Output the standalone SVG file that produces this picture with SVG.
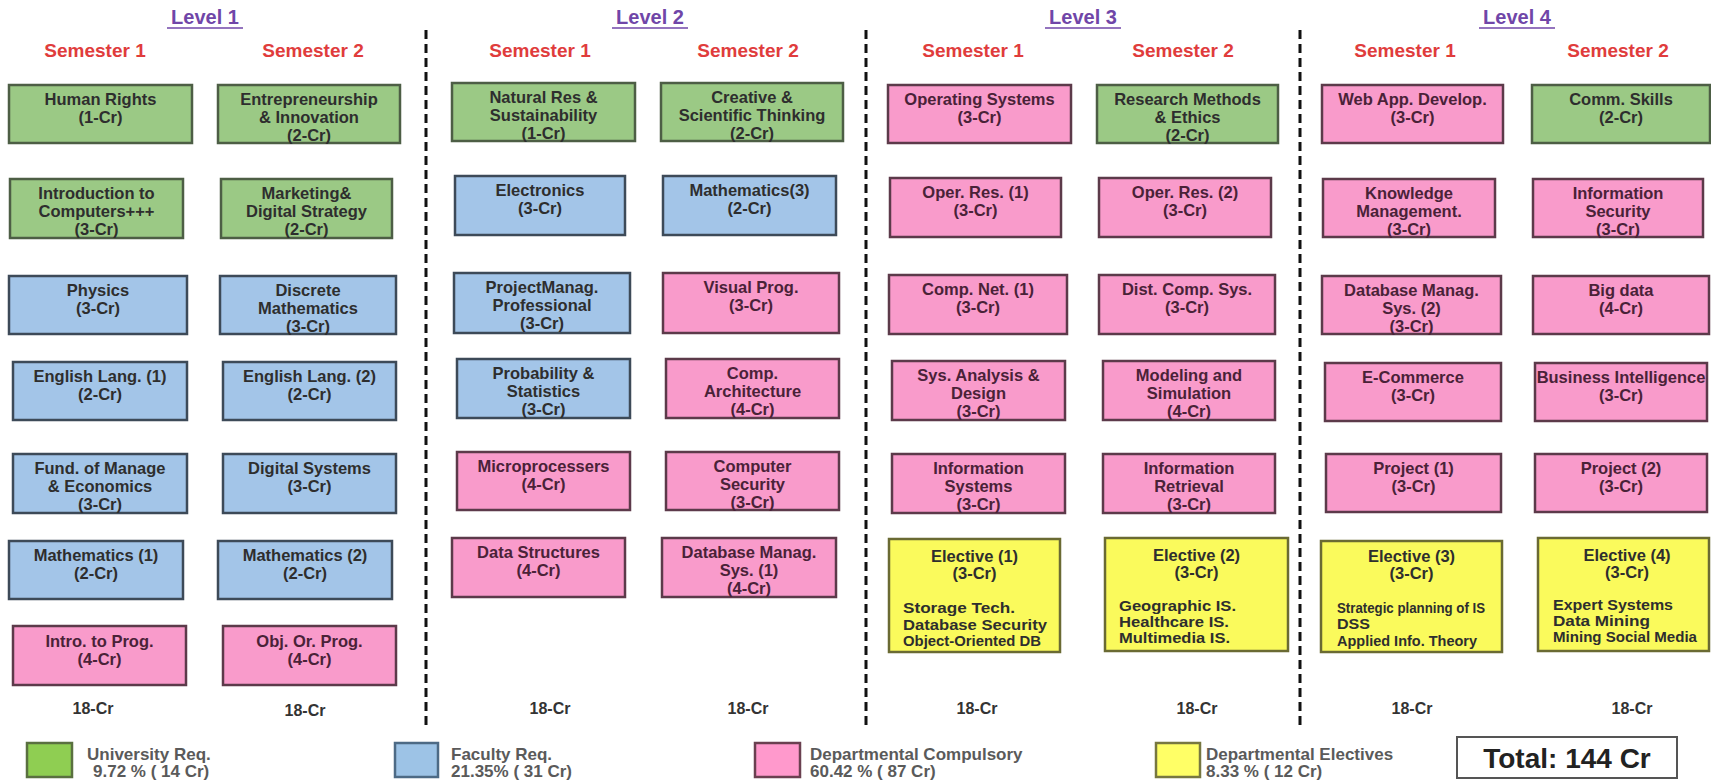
<svg xmlns="http://www.w3.org/2000/svg" width="1711" height="781" viewBox="0 0 1711 781">
<style>
.box{stroke-width:2.5}
.g{fill:#9bc985;stroke:#4d5e45}
.b{fill:#a3c5e8;stroke:#3d4a58}
.p{fill:#f99bcb;stroke:#5c3a4a}
.y{fill:#fafa5c;stroke:#6a6a33}
text{font-family:"Liberation Sans",Arial,sans-serif;font-weight:bold}
.t{font-size:16.5px;fill:#2e2e2e;text-anchor:middle}
.tp{font-size:16.5px;fill:#4a2238;text-anchor:middle}
.l{font-size:15px;fill:#2e2e2e}
.lvl{font-size:20px;fill:#7046a8;text-anchor:middle}
.sem{font-size:19px;fill:#e03c3c;text-anchor:middle}
.cr{font-size:16px;fill:#333;text-anchor:middle}
.lg{font-size:17px;fill:#5a5a5a}
.sep{stroke:#111;stroke-width:3;stroke-dasharray:9 5;fill:none}
</style>
<rect width="1711" height="781" fill="#ffffff"/>
<g id="headers">
<text class="lvl" x="205" y="24">Level 1</text><line x1="167" y1="28" x2="243" y2="28" stroke="#7046a8" stroke-width="1.5"/>
<text class="lvl" x="650" y="24">Level 2</text><line x1="612" y1="28" x2="688" y2="28" stroke="#7046a8" stroke-width="1.5"/>
<text class="lvl" x="1083" y="24">Level 3</text><line x1="1045" y1="28" x2="1121" y2="28" stroke="#7046a8" stroke-width="1.5"/>
<text class="lvl" x="1517" y="24">Level 4</text><line x1="1479" y1="28" x2="1555" y2="28" stroke="#7046a8" stroke-width="1.5"/>
<text class="sem" x="95" y="57">Semester 1</text>
<text class="sem" x="313" y="57">Semester 2</text>
<text class="sem" x="540" y="57">Semester 1</text>
<text class="sem" x="748" y="57">Semester 2</text>
<text class="sem" x="973" y="57">Semester 1</text>
<text class="sem" x="1183" y="57">Semester 2</text>
<text class="sem" x="1405" y="57">Semester 1</text>
<text class="sem" x="1618" y="57">Semester 2</text>
</g>
<g id="connectors">
<line class="sep" x1="426" y1="30" x2="426" y2="728"/>
<line class="sep" x1="866" y1="30" x2="866" y2="728"/>
<line class="sep" x1="1300" y1="30" x2="1300" y2="728"/>
</g>
<!-- Level 1 Semester 1 -->
<g id="n-human-rights"><rect class="box g" x="9" y="85" width="183" height="58"/><text class="t" x="100.5" y="105">Human Rights</text><text class="t" x="100.5" y="123">(1-Cr)</text></g>
<g id="n-intro-computers"><rect class="box g" x="10" y="179" width="173" height="59"/><text class="t" x="96.5" y="199">Introduction to</text><text class="t" x="96.5" y="217">Computers+++</text><text class="t" x="96.5" y="235">(3-Cr)</text></g>
<g id="n-physics"><rect class="box b" x="9" y="276" width="178" height="58"/><text class="t" x="98" y="296">Physics</text><text class="t" x="98" y="314">(3-Cr)</text></g>
<g id="n-english1"><rect class="box b" x="13" y="362" width="174" height="58"/><text class="t" x="100" y="382">English Lang. (1)</text><text class="t" x="100" y="400">(2-Cr)</text></g>
<g id="n-fund-manage"><rect class="box b" x="13" y="454" width="174" height="59"/><text class="t" x="100" y="474">Fund. of Manage</text><text class="t" x="100" y="492">&amp; Economics</text><text class="t" x="100" y="510">(3-Cr)</text></g>
<g id="n-math1"><rect class="box b" x="9" y="541" width="174" height="58"/><text class="t" x="96" y="561">Mathematics (1)</text><text class="t" x="96" y="579">(2-Cr)</text></g>
<g id="n-intro-prog"><rect class="box p" x="13" y="626" width="173" height="59"/><text class="tp" x="99.5" y="647">Intro. to Prog.</text><text class="tp" x="99.5" y="665">(4-Cr)</text></g>
<!-- Level 1 Semester 2 -->
<g id="n-entrepreneurship"><rect class="box g" x="218" y="85" width="182" height="58"/><text class="t" x="309" y="105">Entrepreneurship</text><text class="t" x="309" y="123">&amp; Innovation</text><text class="t" x="309" y="141">(2-Cr)</text></g>
<g id="n-marketing"><rect class="box g" x="221" y="179" width="171" height="59"/><text class="t" x="306.5" y="199">Marketing&amp;</text><text class="t" x="306.5" y="217">Digital Strategy</text><text class="t" x="306.5" y="235">(2-Cr)</text></g>
<g id="n-discrete"><rect class="box b" x="220" y="276" width="176" height="58"/><text class="t" x="308" y="296">Discrete</text><text class="t" x="308" y="314">Mathematics</text><text class="t" x="308" y="332">(3-Cr)</text></g>
<g id="n-english2"><rect class="box b" x="223" y="362" width="173" height="58"/><text class="t" x="309.5" y="382">English Lang. (2)</text><text class="t" x="309.5" y="400">(2-Cr)</text></g>
<g id="n-digital-systems"><rect class="box b" x="223" y="454" width="173" height="59"/><text class="t" x="309.5" y="474">Digital Systems</text><text class="t" x="309.5" y="492">(3-Cr)</text></g>
<g id="n-math2"><rect class="box b" x="218" y="541" width="174" height="58"/><text class="t" x="305" y="561">Mathematics (2)</text><text class="t" x="305" y="579">(2-Cr)</text></g>
<g id="n-obj-prog"><rect class="box p" x="223" y="626" width="173" height="59"/><text class="tp" x="309.5" y="647">Obj. Or. Prog.</text><text class="tp" x="309.5" y="665">(4-Cr)</text></g>
<!-- Level 2 Semester 1 -->
<g id="n-natural-res"><rect class="box g" x="452" y="83" width="183" height="58"/><text class="t" x="543.5" y="103">Natural Res &amp;</text><text class="t" x="543.5" y="121">Sustainability</text><text class="t" x="543.5" y="139">(1-Cr)</text></g>
<g id="n-electronics"><rect class="box b" x="455" y="176" width="170" height="59"/><text class="t" x="540" y="196">Electronics</text><text class="t" x="540" y="214">(3-Cr)</text></g>
<g id="n-project-manag"><rect class="box b" x="454" y="273" width="176" height="60"/><text class="t" x="542" y="293">ProjectManag.</text><text class="t" x="542" y="311">Professional</text><text class="t" x="542" y="329">(3-Cr)</text></g>
<g id="n-probability"><rect class="box b" x="457" y="359" width="173" height="59"/><text class="t" x="543.5" y="379">Probability &amp;</text><text class="t" x="543.5" y="397">Statistics</text><text class="t" x="543.5" y="415">(3-Cr)</text></g>
<g id="n-microprocessors"><rect class="box p" x="457" y="452" width="173" height="58"/><text class="tp" x="543.5" y="472">Microprocessers</text><text class="tp" x="543.5" y="490">(4-Cr)</text></g>
<g id="n-data-structures"><rect class="box p" x="452" y="538" width="173" height="59"/><text class="tp" x="538.5" y="558">Data Structures</text><text class="tp" x="538.5" y="576">(4-Cr)</text></g>
<!-- Level 2 Semester 2 -->
<g id="n-creative"><rect class="box g" x="661" y="83" width="182" height="58"/><text class="t" x="752" y="103">Creative &amp;</text><text class="t" x="752" y="121">Scientific Thinking</text><text class="t" x="752" y="139">(2-Cr)</text></g>
<g id="n-math3"><rect class="box b" x="663" y="176" width="173" height="59"/><text class="t" x="749.5" y="196">Mathematics(3)</text><text class="t" x="749.5" y="214">(2-Cr)</text></g>
<g id="n-visual-prog"><rect class="box p" x="663" y="273" width="176" height="60"/><text class="tp" x="751" y="293">Visual Prog.</text><text class="tp" x="751" y="311">(3-Cr)</text></g>
<g id="n-comp-arch"><rect class="box p" x="666" y="359" width="173" height="59"/><text class="tp" x="752.5" y="379">Comp.</text><text class="tp" x="752.5" y="397">Architecture</text><text class="tp" x="752.5" y="415">(4-Cr)</text></g>
<g id="n-computer-security"><rect class="box p" x="666" y="452" width="173" height="58"/><text class="tp" x="752.5" y="472">Computer</text><text class="tp" x="752.5" y="490">Security</text><text class="tp" x="752.5" y="508">(3-Cr)</text></g>
<g id="n-dbms1"><rect class="box p" x="662" y="538" width="174" height="59"/><text class="tp" x="749" y="558">Database Manag.</text><text class="tp" x="749" y="576">Sys. (1)</text><text class="tp" x="749" y="594">(4-Cr)</text></g>
<!-- Level 3 Semester 1 -->
<g id="n-operating-systems"><rect class="box p" x="888" y="85" width="183" height="58"/><text class="tp" x="979.5" y="105">Operating Systems</text><text class="tp" x="979.5" y="123">(3-Cr)</text></g>
<g id="n-oper-res1"><rect class="box p" x="890" y="178" width="171" height="59"/><text class="tp" x="975.5" y="198">Oper. Res. (1)</text><text class="tp" x="975.5" y="216">(3-Cr)</text></g>
<g id="n-comp-net"><rect class="box p" x="889" y="275" width="178" height="59"/><text class="tp" x="978" y="295">Comp. Net. (1)</text><text class="tp" x="978" y="313">(3-Cr)</text></g>
<g id="n-sys-analysis"><rect class="box p" x="892" y="361" width="173" height="59"/><text class="tp" x="978.5" y="381">Sys. Analysis &amp;</text><text class="tp" x="978.5" y="399">Design</text><text class="tp" x="978.5" y="417">(3-Cr)</text></g>
<g id="n-info-systems"><rect class="box p" x="892" y="454" width="173" height="59"/><text class="tp" x="978.5" y="474">Information</text><text class="tp" x="978.5" y="492">Systems</text><text class="tp" x="978.5" y="510">(3-Cr)</text></g>
<g id="n-elective1"><rect class="box y" x="889" y="539" width="171" height="113"/><text class="t" x="974.5" y="562">Elective (1)</text><text class="t" x="974.5" y="579">(3-Cr)</text><text class="l" x="903" y="613" textLength="112" lengthAdjust="spacingAndGlyphs">Storage Tech.</text><text class="l" x="903" y="630" textLength="144" lengthAdjust="spacingAndGlyphs">Database Security</text><text class="l" x="903" y="646" textLength="138" lengthAdjust="spacingAndGlyphs">Object-Oriented DB</text></g>
<!-- Level 3 Semester 2 -->
<g id="n-research-methods"><rect class="box g" x="1097" y="85" width="181" height="58"/><text class="t" x="1187.5" y="105">Research Methods</text><text class="t" x="1187.5" y="123">&amp; Ethics</text><text class="t" x="1187.5" y="141">(2-Cr)</text></g>
<g id="n-oper-res2"><rect class="box p" x="1099" y="178" width="172" height="59"/><text class="tp" x="1185" y="198">Oper. Res. (2)</text><text class="tp" x="1185" y="216">(3-Cr)</text></g>
<g id="n-dist-comp"><rect class="box p" x="1099" y="275" width="176" height="59"/><text class="tp" x="1187" y="295">Dist. Comp. Sys.</text><text class="tp" x="1187" y="313">(3-Cr)</text></g>
<g id="n-modeling"><rect class="box p" x="1103" y="361" width="172" height="59"/><text class="tp" x="1189" y="381">Modeling and</text><text class="tp" x="1189" y="399">Simulation</text><text class="tp" x="1189" y="417">(4-Cr)</text></g>
<g id="n-info-retrieval"><rect class="box p" x="1103" y="454" width="172" height="59"/><text class="tp" x="1189" y="474">Information</text><text class="tp" x="1189" y="492">Retrieval</text><text class="tp" x="1189" y="510">(3-Cr)</text></g>
<g id="n-elective2"><rect class="box y" x="1105" y="538" width="183" height="113"/><text class="t" x="1196.5" y="561">Elective (2)</text><text class="t" x="1196.5" y="578">(3-Cr)</text><text class="l" x="1119" y="611" textLength="117" lengthAdjust="spacingAndGlyphs">Geographic IS.</text><text class="l" x="1119" y="627" textLength="110" lengthAdjust="spacingAndGlyphs">Healthcare IS.</text><text class="l" x="1119" y="643" textLength="111" lengthAdjust="spacingAndGlyphs">Multimedia IS.</text></g>
<!-- Level 4 Semester 1 -->
<g id="n-web-app"><rect class="box p" x="1322" y="85" width="181" height="58"/><text class="tp" x="1412.5" y="105">Web App. Develop.</text><text class="tp" x="1412.5" y="123">(3-Cr)</text></g>
<g id="n-knowledge"><rect class="box p" x="1323" y="179" width="172" height="58"/><text class="tp" x="1409" y="199">Knowledge</text><text class="tp" x="1409" y="217">Management.</text><text class="tp" x="1409" y="235">(3-Cr)</text></g>
<g id="n-dbms2"><rect class="box p" x="1322" y="276" width="179" height="58"/><text class="tp" x="1411.5" y="296">Database Manag.</text><text class="tp" x="1411.5" y="314">Sys. (2)</text><text class="tp" x="1411.5" y="332">(3-Cr)</text></g>
<g id="n-ecommerce"><rect class="box p" x="1325" y="363" width="176" height="58"/><text class="tp" x="1413" y="383">E-Commerce</text><text class="tp" x="1413" y="401">(3-Cr)</text></g>
<g id="n-project1"><rect class="box p" x="1326" y="454" width="175" height="58"/><text class="tp" x="1413.5" y="474">Project (1)</text><text class="tp" x="1413.5" y="492">(3-Cr)</text></g>
<g id="n-elective3"><rect class="box y" x="1321" y="541" width="181" height="111"/><text class="t" x="1411.5" y="562">Elective (3)</text><text class="t" x="1411.5" y="579">(3-Cr)</text><text class="l" x="1337" y="613" textLength="148" lengthAdjust="spacingAndGlyphs">Strategic planning of IS</text><text class="l" x="1337" y="629" textLength="33" lengthAdjust="spacingAndGlyphs">DSS</text><text class="l" x="1337" y="646" textLength="140" lengthAdjust="spacingAndGlyphs">Applied Info. Theory</text></g>
<!-- Level 4 Semester 2 -->
<g id="n-comm-skills"><rect class="box g" x="1532" y="85" width="178" height="58"/><text class="t" x="1621" y="105">Comm. Skills</text><text class="t" x="1621" y="123">(2-Cr)</text></g>
<g id="n-info-security"><rect class="box p" x="1533" y="179" width="170" height="58"/><text class="tp" x="1618" y="199">Information</text><text class="tp" x="1618" y="217">Security</text><text class="tp" x="1618" y="235">(3-Cr)</text></g>
<g id="n-big-data"><rect class="box p" x="1533" y="276" width="176" height="58"/><text class="tp" x="1621" y="296">Big data</text><text class="tp" x="1621" y="314">(4-Cr)</text></g>
<g id="n-business-intelligence"><rect class="box p" x="1535" y="363" width="172" height="58"/><text class="tp" x="1621" y="383">Business Intelligence</text><text class="tp" x="1621" y="401">(3-Cr)</text></g>
<g id="n-project2"><rect class="box p" x="1535" y="454" width="172" height="58"/><text class="tp" x="1621" y="474">Project (2)</text><text class="tp" x="1621" y="492">(3-Cr)</text></g>
<g id="n-elective4"><rect class="box y" x="1538" y="538" width="171" height="113"/><text class="t" x="1627" y="561">Elective (4)</text><text class="t" x="1627" y="578">(3-Cr)</text><text class="l" x="1553" y="610" textLength="120" lengthAdjust="spacingAndGlyphs">Expert Systems</text><text class="l" x="1553" y="626" textLength="97" lengthAdjust="spacingAndGlyphs">Data Mining</text><text class="l" x="1553" y="642" textLength="144" lengthAdjust="spacingAndGlyphs">Mining Social Media</text></g>
<g id="credits">
<text class="cr" x="93" y="714">18-Cr</text>
<text class="cr" x="305" y="716">18-Cr</text>
<text class="cr" x="550" y="714">18-Cr</text>
<text class="cr" x="748" y="714">18-Cr</text>
<text class="cr" x="977" y="714">18-Cr</text>
<text class="cr" x="1197" y="714">18-Cr</text>
<text class="cr" x="1412" y="714">18-Cr</text>
<text class="cr" x="1632" y="714">18-Cr</text>
</g>
<g id="legend">
<rect x="27" y="743" width="45" height="34" fill="#8fce52" stroke="#5a7040" stroke-width="2.5"/>
<text class="lg" x="87" y="760">University Req.</text><text class="lg" x="93" y="777">9.72 % ( 14 Cr)</text>
<rect x="395" y="743" width="43" height="34" fill="#9dc3e6" stroke="#4d6a85" stroke-width="2.5"/>
<text class="lg" x="451" y="760">Faculty Req.</text><text class="lg" x="451" y="777">21.35% ( 31 Cr)</text>
<rect x="755" y="743" width="45" height="34" fill="#ff99cc" stroke="#6a4050" stroke-width="2.5"/>
<text class="lg" x="810" y="760">Departmental Compulsory</text><text class="lg" x="810" y="777">60.42 % ( 87 Cr)</text>
<rect x="1156" y="743" width="44" height="34" fill="#ffff66" stroke="#777740" stroke-width="2.5"/>
<text class="lg" x="1206" y="760">Departmental Electives</text><text class="lg" x="1206" y="777">8.33 % ( 12 Cr)</text>
</g>
<g id="total">
<rect x="1457" y="737" width="220" height="41" fill="#ffffff" stroke="#555" stroke-width="2"/>
<text x="1567" y="768" font-size="28" fill="#222" text-anchor="middle">Total: 144 Cr</text>
</g>
</svg>
